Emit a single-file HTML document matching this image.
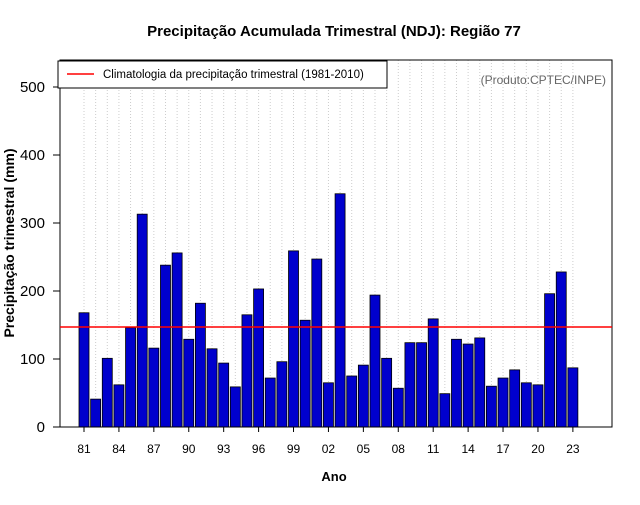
<!DOCTYPE html>
<html><head><meta charset="utf-8"><style>
body{margin:0;background:#fff;font-family:"Liberation Sans",sans-serif}
</style></head><body>
<svg id="c" width="640" height="500" xmlns="http://www.w3.org/2000/svg">
<rect width="640" height="500" fill="#fff"/>
<text x="334" y="36" font-size="15" font-weight="bold" text-anchor="middle">Precipitação Acumulada Trimestral (NDJ): Região 77</text>
<g id="grid"></g><g id="bars"></g>
<rect x="60" y="60" width="552" height="367" fill="none" stroke="#000"/>
<g id="axes"></g>
<text x="334" y="481" font-size="13" font-weight="bold" text-anchor="middle">Ano</text>
<text transform="translate(14,243) rotate(-90)" font-size="14" font-weight="bold" text-anchor="middle">Precipitação trimestral (mm)</text>
<text x="606" y="84" font-size="12" fill="#666" text-anchor="end">(Produto:CPTEC/INPE)</text>
<g>
<rect x="58" y="61" width="329" height="27" fill="#fff" stroke="#000"/>
<line x1="67" y1="74" x2="94" y2="74" stroke="red" stroke-width="1.5"/>
<text x="103" y="78" font-size="11.5">Climatologia da precipitação trimestral (1981-2010)</text>
</g>
</svg>
<script>
const years=[];for(let y=1981;y<=2023;y++)years.push(y);
const values=[168,41,101,62,146,313,116,238,256,129,182,115,94,59,165,203,72,96,259,157,247,65,343,75,91,194,101,57,124,124,159,49,129,122,131,60,72,84,65,62,196,228,87];
const climatology=147;
const yTicks=[0,100,200,300,400,500];
const NS="http://www.w3.org/2000/svg";
const X=i=>84+i*11.64, Y=v=>427-v*0.68;
function mk(t,a,p){const e=document.createElementNS(NS,t);for(const k in a)e.setAttribute(k,a[k]);p.appendChild(e);return e;}
const grid=document.getElementById('grid'),bars=document.getElementById('bars'),axes=document.getElementById('axes');
years.forEach((yr,i)=>{
 const g=mk('line',{x1:X(i),x2:X(i),y1:60,y2:427,stroke:'#ccc','stroke-dasharray':'1,2'},grid);
 
 
 const b=mk('rect',{x:X(i)-5,y:Y(values[i]),width:10,height:values[i]*0.68,fill:'#0000CD',stroke:'#000','stroke-width':0.8},bars);
 
 
 if((yr-1981)%3===0){
  const t=mk('line',{x1:X(i),x2:X(i),y1:427,y2:432,stroke:'#000'},axes);
  
  
  const l=mk('text',{x:X(i),y:453,'font-size':12,'text-anchor':'middle'},axes);
  l.textContent=String(yr%100).padStart(2,'0');
  
  
 }
});
yTicks.forEach(v=>{
 const t=mk('line',{x1:53,x2:60,y1:Y(v),y2:Y(v),stroke:'#000'},axes);
 
 
 const l=mk('text',{x:45,y:Y(v)+5,'font-size':15,'text-anchor':'end'},axes);
 l.textContent=v;
 
 
});
const cl=mk('line',{x1:60,x2:612,y1:Y(climatology),y2:Y(climatology),stroke:'red','stroke-width':1.5},axes);


</script>
</body></html>
